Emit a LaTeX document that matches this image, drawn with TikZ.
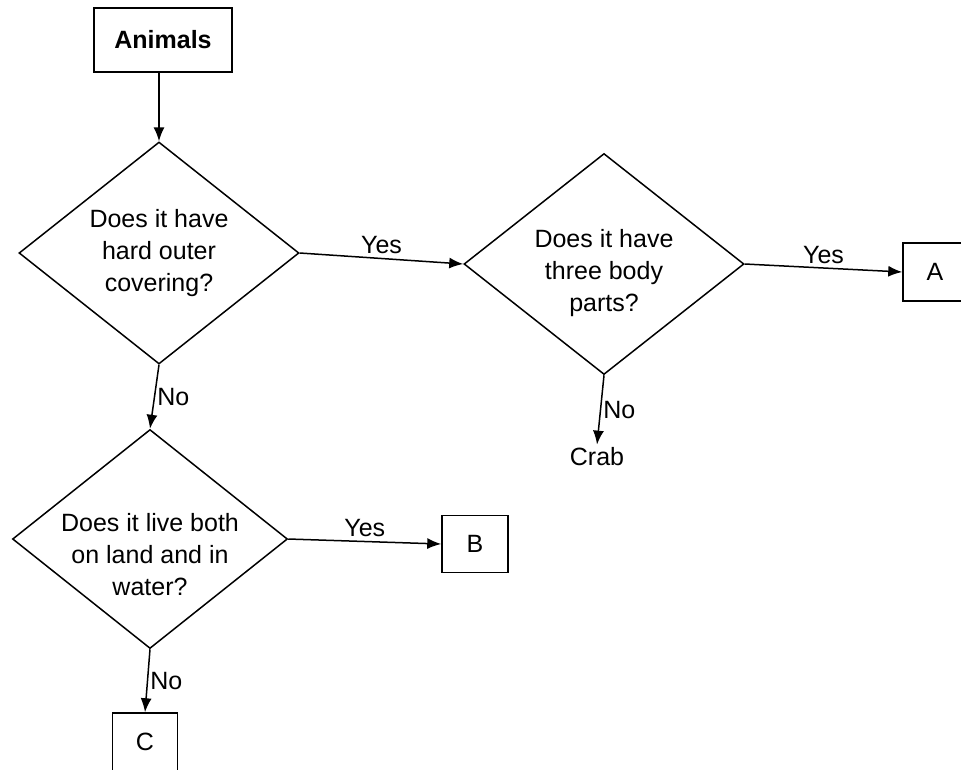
\documentclass[tikz,border=0pt]{standalone}
\usepackage{fontspec}
\setmainfont{Liberation Sans}
\usetikzlibrary{shapes.geometric,arrows.meta}

\begin{document}
\begin{tikzpicture}[x=1pt,y=-1pt,
  every node/.style={font=\fontsize{25}{32}\selectfont},
  box/.style={draw,line width=1.5pt,minimum width=66pt,minimum height=57pt,inner sep=0pt},
  decision/.style={draw,diamond,line width=1.5pt,align=center,aspect=1.26,inner xsep=-12pt,inner ysep=0pt,minimum width=280pt,minimum height=222pt},
  arrow/.style={line width=1.5pt,-{Latex[length=14pt,width=11pt]}},
  answer/.style={inner sep=4pt}]
\useasboundingbox (0,0) rectangle (961,769);
\node[box,minimum width=138pt,minimum height=64pt] (animals) at (163,40) {\bfseries Animals};
\node[decision] (shell) at (159,253) {Does it have\\hard outer\\covering?};
\node[decision,minimum height=221pt,text height=100pt,inner ysep=-9pt] (parts) at (604,264) {Does it have\\three body\\parts?};
\node[decision,minimum width=275pt,minimum height=219pt,text height=114pt,inner ysep=-16pt] (amphi) at (150,539) {Does it live both\\on land and in\\water?};
\node[box,minimum width=64pt,minimum height=58pt] (a) at (935,272) {A};
\node[box] (b) at (475,544) {B};
\node[box,minimum width=65pt,minimum height=58pt] (c) at (145,742) {C};
\node[inner sep=3pt] (crab) at (597,457) {Crab};
\draw[arrow] (animals.south -| shell.north) -- (shell.north);
\draw[arrow] (shell.east) -- node[answer,above] {Yes} (parts.west);
\draw[arrow] (parts.east) -- node[answer,above] {Yes} (a.west);
\draw[arrow] (parts.south) -- node[answer,right,inner sep=2pt] {No} (crab.north);
\draw[arrow] (shell.south) -- node[answer,right,inner sep=2pt] {No} (amphi.north);
\draw[arrow] (amphi.east) -- node[answer,above] {Yes} (b.west);
\draw[arrow] (amphi.south) -- node[answer,right,inner sep=2pt] {No} (c.north);
\end{tikzpicture}
\end{document}
